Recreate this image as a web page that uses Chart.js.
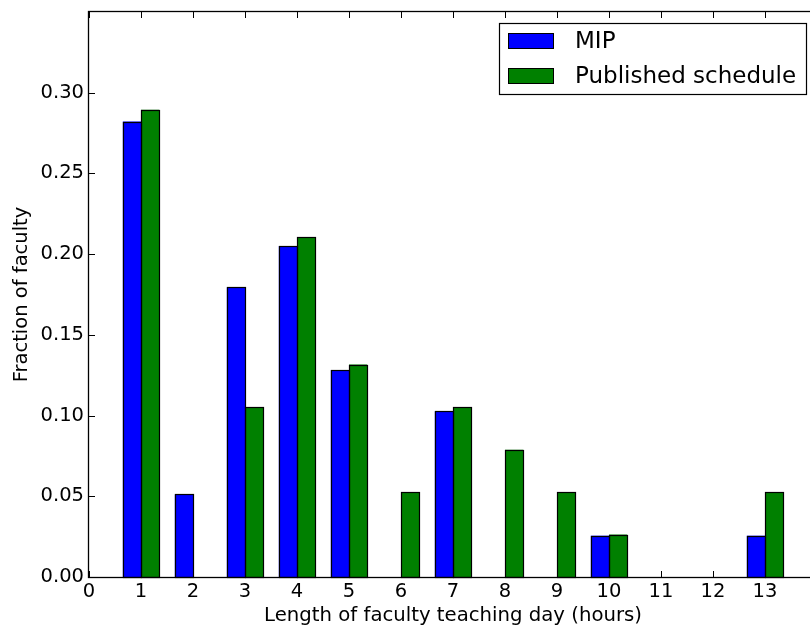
<!DOCTYPE html>
<html><head><meta charset="utf-8">
<script src="https://cdn.jsdelivr.net/npm/chart.js@4/dist/chart.umd.min.js"></script>
<style>html,body{margin:0;padding:0;background:#fff;overflow:hidden;width:810px;height:628px}canvas{display:block}</style>
</head><body>
<canvas id="c" width="830" height="628"></canvas>
<script>
const categories = [1,2,3,4,5,6,7,8,9,10,11,12,13];
const mipValues = [0.2821,0.0513,0.1795,0.2051,0.1282,0,0.1026,0,0,0.0256,0,0,0.0256];
const publishedValues = [0.2895,0,0.1053,0.2105,0.1316,0.0526,0.1053,0.0789,0.0526,0.0263,0,0,0.0526];
const seriesNames = ['MIP','Published schedule'];
const xTicks = [0,1,2,3,4,5,6,7,8,9,10,11,12,13];
const yTicks = [0,0.05,0.10,0.15,0.20,0.25,0.30];
const xTitle = 'Length of faculty teaching day (hours)';
const yTitle = 'Fraction of faculty';

Chart.defaults.font.family = '"DejaVu Sans", sans-serif';
Chart.defaults.color = '#000';

const barOutline = {
  id: 'barOutline',
  afterDatasetsDraw(chart) {
    const ctx = chart.ctx;
    ctx.save();
    ctx.strokeStyle = '#000';
    ctx.lineWidth = 1.2;
    chart.data.datasets.forEach((d, di) => {
      chart.getDatasetMeta(di).data.forEach(el => {
        const p = el.getProps(['x', 'y', 'base', 'width'], true);
        if (Math.abs(p.base - p.y) < 0.5) return;
        const l = Math.round(p.x - p.width / 2) + 0.5;
        const r = Math.round(p.x + p.width / 2) + 0.5;
        const t = Math.round(p.y) + 0.5;
        const b = Math.round(p.base) + 0.5;
        ctx.strokeRect(l, t, r - l, b - t);
      });
    });
    ctx.restore();
  }
};

const frameTicks = {
  id: 'frameTicks',
  afterDatasetsDraw(chart) {
    const {ctx, chartArea: a, scales: {x, y}} = chart;
    const L = 6;
    ctx.save();
    ctx.strokeStyle = '#000';
    ctx.lineWidth = 1;
    ctx.beginPath();
    x.ticks.forEach(t => {
      const px = Math.round(x.getPixelForValue(t.value)) + 0.5;
      ctx.moveTo(px, a.bottom); ctx.lineTo(px, a.bottom - L);
      ctx.moveTo(px, a.top); ctx.lineTo(px, a.top + L);
    });
    y.ticks.forEach(t => {
      const py = Math.round(y.getPixelForValue(t.value)) + 0.5;
      ctx.moveTo(a.left, py); ctx.lineTo(a.left + L, py);
      ctx.moveTo(a.right, py); ctx.lineTo(a.right - L, py);
    });
    ctx.stroke();
    ctx.lineWidth = 1.3;
    ctx.strokeRect(a.left - 0.5, a.top - 0.5, a.right - a.left, a.bottom - a.top + 1);
    ctx.restore();
  }
};

const boxLegend = {
  id: 'boxLegend',
  afterDraw(chart) {
    const {ctx, chartArea: a} = chart;
    const fs = 23;
    ctx.save();
    ctx.font = fs + 'px "DejaVu Sans"';
    const items = chart.data.datasets.map(d => ({label: d.label, color: d.backgroundColor}));
    const textW = Math.max(...items.map(i => ctx.measureText(i.label).width));
    const padL = 9, handleW = 46, handleH = 16, gap = 21, padR = 10, rowH = 35, padV = 18;
    const w = padL + handleW + gap + textW + padR;
    const h = padV * 2 + rowH * (items.length - 1);
    const right = a.right - 11, top = a.top + 11;
    const left = right - w;
    ctx.fillStyle = '#fff';
    ctx.fillRect(left, top, w, h);
    ctx.strokeStyle = '#000';
    ctx.lineWidth = 1.2;
    ctx.strokeRect(Math.round(left) + 0.5, top + 0.5, Math.round(w), h);
    items.forEach((it, i) => {
      const cy = top + padV + i * rowH;
      const sx = Math.round(left + padL);
      ctx.fillStyle = it.color;
      ctx.fillRect(sx, Math.round(cy - handleH / 2), handleW, handleH);
      ctx.lineWidth = 1;
      ctx.strokeRect(sx + 0.5, Math.round(cy - handleH / 2) + 0.5, handleW - 1, handleH - 1);
      ctx.fillStyle = '#000';
      ctx.textBaseline = 'middle';
      ctx.textAlign = 'left';
      ctx.fillText(it.label, sx + handleW + gap, cy + 1);
    });
    ctx.restore();
  }
};

const mkData = vals => categories.map((c, i) => ({x: c, y: vals[i]}));

new Chart(document.getElementById('c'), {
  type: 'bar',
  data: {
    datasets: [
      {label: seriesNames[0], data: mkData(mipValues), backgroundColor: '#0000ff', borderWidth: 0},
      {label: seriesNames[1], data: mkData(publishedValues), backgroundColor: '#008000', borderWidth: 0}
    ]
  },
  options: {
    responsive: false,
    animation: false,
    layout: {padding: {left: 0, top: 12, right: 13, bottom: 0}},
    datasets: {bar: {categoryPercentage: 0.7, barPercentage: 1.0, inflateAmount: 0}},
    plugins: {legend: {display: false}, tooltip: {enabled: false}},
    scales: {
      x: {
        type: 'linear', min: 0, max: 14, offset: false,
        grid: {display: false}, border: {display: false},
        afterBuildTicks: s => { s.ticks = xTicks.map(v => ({value: v})); },
        afterFit: s => { s.height = 51; s.paddingLeft = 0; s.paddingRight = 0; },
        ticks: {font: {size: 19.5}, padding: -5, maxRotation: 0, autoSkip: false, callback: v => String(v)},
        title: {display: true, text: xTitle, font: {size: 19.7}, padding: {top: 0, bottom: 0}}
      },
      y: {
        type: 'linear', min: 0, max: 0.35,
        grid: {display: false}, border: {display: false},
        afterBuildTicks: s => { s.ticks = yTicks.map(v => ({value: v})); },
        afterFit: s => { s.width = 89; s.paddingTop = 0; s.paddingBottom = 0; },
        ticks: {font: {size: 19.5}, padding: -3, autoSkip: false, callback: v => Number(v).toFixed(2)},
        title: {display: true, text: yTitle, font: {size: 19.5}, padding: {top: 10, bottom: 0}}
      }
    }
  },
  plugins: [barOutline, frameTicks, boxLegend]
});
</script>
</body></html>
